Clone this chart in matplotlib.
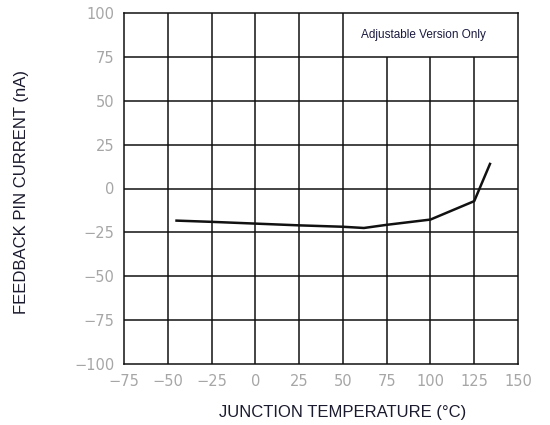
import matplotlib
matplotlib.use("Agg")
import matplotlib.pyplot as plt

# data
temp = [-45, -25, 0, 25, 50, 62, 75, 100, 125, 134]
current = [-18.3, -19.0, -20.0, -21.0, -21.8, -22.5, -20.7, -17.7, -7.2, 14.0]

x_ticks = [-75, -50, -25, 0, 25, 50, 75, 100, 125, 150]
y_ticks = [-100, -75, -50, -25, 0, 25, 50, 75, 100]

fig = plt.figure(figsize=(5.5, 4.25), dpi=100)
ax = fig.add_axes([124 / 550, 61 / 425, 394 / 550, 351 / 425])

ax.set_xlim(-75, 150)
ax.set_ylim(-100, 100)

# grid, leaving the note box open in the top-right
grid_kw = dict(colors="#111111", linewidth=1.1, zorder=1)
for x in x_ticks[1:-1]:
    top = 75 if x in (75, 100, 125) else 100
    ax.vlines(x, -100, top, **grid_kw)
for y in y_ticks[1:-1]:
    ax.hlines(y, -75, 150, **grid_kw)

ax.plot(temp, current, color="#111111", linewidth=1.8, zorder=3)

for s in ax.spines.values():
    s.set_linewidth(1.1)
    s.set_color("#111111")

ax.set_xticks(x_ticks)
ax.set_yticks(y_ticks)
ax.tick_params(length=0, labelsize=10.5, labelcolor="#a6a6a6", pad=7)

ax.text(96, 87.5, "Adjustable Version Only", ha="center", va="center",
        fontsize=8.5, color="#1a1a40", family="Liberation Sans")

fig.text(343 / 550, 1 - 412 / 425, "JUNCTION TEMPERATURE (°C)", ha="center",
         va="center", fontsize=12, color="#1a1a2e", family="Liberation Sans")
fig.text(21.5 / 550, 1 - 192 / 425, "FEEDBACK PIN CURRENT (nA)", ha="center",
         va="center", rotation=90, fontsize=12, color="#1a1a2e",
         family="Liberation Sans")

fig.savefig("out.png", dpi=100)
